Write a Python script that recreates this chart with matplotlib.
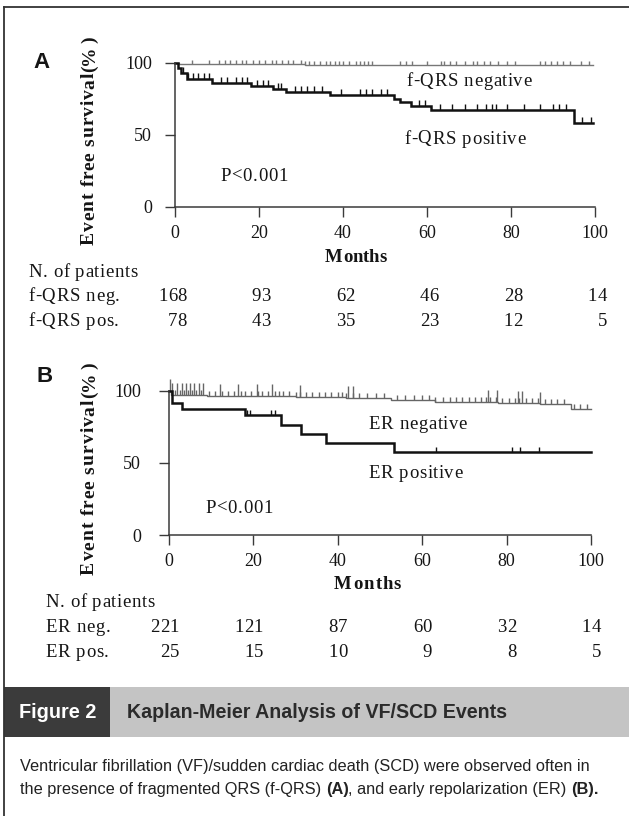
import numpy as np
import matplotlib
matplotlib.use("Agg")
import matplotlib.pyplot as plt
from matplotlib.font_manager import FontProperties
from matplotlib.patches import Rectangle
from matplotlib.lines import Line2D

FW, FH = 629, 816

# ---------------- data ----------------
month_ticks = [0, 20, 40, 60, 80, 100]
surv_ticks = [0, 50, 100]

# Panel A : f-QRS
a_pos_t = [0, 0.7, 1.5, 2.8, 8.8, 18.2, 23.3, 26.4, 37.0, 52.2, 53.5, 56.3, 61.0, 95.0, 99.5]
a_pos_s = [100, 96, 93, 89, 85.8, 83.5, 81.8, 79.6, 77.5, 75.0, 72.5, 70.0, 67.4, 58.0, 58.0]
a_pos_cens = [2, 3.2, 4.2, 5.5, 6.8, 8.0, 11, 12.5, 14.5, 16, 17.2, 19.5, 21, 22.2, 24.5, 25.3,
              28.5, 30, 31.5, 33, 35, 39.5, 44, 45.5, 47, 49, 50.5, 58, 59.5, 63, 66, 69, 72,
              74, 75.5, 76.5, 79, 83, 87, 90, 91.5, 93, 97, 99]
a_neg_t = [0, 1.0, 31.0, 99.5]
a_neg_s = [100, 99.3, 98.5, 98.5]
a_neg_cens = [4, 8, 10.5, 12, 13, 14.5, 16, 17, 18.5, 20, 21.5, 23, 24, 25.5, 27, 28, 30, 31, 32,
              33, 34.5, 36, 37, 38, 39, 40, 41.5, 43, 44, 45, 46, 47, 53.5, 55, 56.5, 60, 63.3,
              64, 65.5, 67, 69, 71, 72, 73.5, 75, 77, 79, 81, 86.8, 88, 89.5, 91, 92.5, 94,
              96.6, 98.5]
a_risk_labels = ["f-QRS neg.", "f-QRS pos."]
a_risk = [[168, 93, 62, 46, 28, 14],
          [78, 43, 35, 23, 12, 5]]

# Panel B : ER
b_pos_t = [0, 0.8, 3.0, 18.0, 26.5, 31.3, 37.1, 53.3, 100]
b_pos_s = [100, 91.5, 87.5, 83.0, 76.5, 70.0, 63.5, 57.3, 57.3]
b_pos_cens = [18.6, 19.3, 24.2, 25.2, 63.2, 81.2, 83.2, 87.7]
b_neg_t = [0, 0.5, 9, 30, 42, 52.5, 63, 78, 88, 95.3, 100]
b_neg_s = [100, 97, 96, 95.5, 95, 93.5, 92.5, 91.5, 90.8, 87, 87]
b_neg_cens = [1.5, 2.5, 3.5, 4.5, 5.5, 6.5, 7.5, 9.5, 11, 12.5, 14, 15.5, 17, 18, 19.5, 21, 22,
              23.5, 25, 26, 27, 28.5, 30, 31, 32.5, 34, 35.5, 37, 38.5, 40, 41, 42, 43.5, 45,
              47, 49, 51, 54, 56, 58, 60, 61.5, 63, 65, 66.5, 68, 69.5, 71, 72.5, 74, 75, 76,
              77.5, 79, 80.5, 82, 83, 84.5, 86, 87.5, 89, 90.5, 92, 93.5, 96, 97.5, 99]
b_neg_tied = [0.3, 0.7, 2, 3, 4, 5, 6, 7, 8, 12, 16.4, 20.8, 24.5, 31, 42.5, 43.5,
              75.6, 77.7, 82.7, 83.6, 88]
b_risk_labels = ["ER neg.", "ER pos."]
b_risk = [[221, 121, 87, 60, 32, 14],
          [25, 15, 10, 9, 8, 5]]

# ---------------- figure ----------------
fig = plt.figure(figsize=(FW / 100, FH / 100), dpi=100)
fig.patch.set_facecolor("white")
renderer = fig.canvas.get_renderer()
SERIF = "Liberation Serif"
SANS = "Liberation Sans"
INK = "#151515"
TS = 13.5          # serif text size
ST = 1.08          # slight horizontal letter spacing


def fx(x):
    return x / FW


def fy(y):
    return 1 - y / FH


def tw(s, fp):
    return renderer.get_text_width_height_descent(s, fp, ismath=False)[0]


def spaced(x, y, s, size, weight="normal", stretch=ST, ha="left", rot=0,
           color=INK, family=SERIF):
    """Text drawn with extra letter spacing. x,y in figure px (top origin).
    rot=0: y is baseline.  rot=90: x is baseline, y is the anchor along the text."""
    fp = FontProperties(family=family, size=size, weight=weight)
    wx = tw("x", fp)
    total = tw(s, fp) * stretch
    pos = [0.0] + [(tw(s[:i] + "x", fp) - wx) * stretch for i in range(1, len(s))]
    start = {"left": 0.0, "center": -total / 2, "right": -total}[ha]
    for ch, p in zip(s, pos):
        if ch == " ":
            continue
        if rot == 0:
            fig.text(fx(x + start + p), fy(y), ch, fontproperties=fp, ha="left",
                     va="baseline", color=color)
        else:
            fig.text(fx(x), fy(y - start - p), ch, fontproperties=fp, rotation=90,
                     rotation_mode="anchor", ha="left", va="baseline", color=color)


def surv_at(times, surv, pts):
    idx = np.searchsorted(np.asarray(times), np.asarray(pts), side="right") - 1
    return np.asarray(surv)[idx]


def make_axes(left, right, y0, y100, ypad):
    ax = fig.add_axes([fx(left), fy(y0), (right - left) / FW, (y0 - y100) / FH])
    ax.set_xlim(0, 100)
    ax.set_ylim(0, 100)
    for sp in ("top", "right"):
        ax.spines[sp].set_visible(False)
    for sp in ("left", "bottom"):
        ax.spines[sp].set_color("#3a3a3a")
        ax.spines[sp].set_linewidth(1.1)
    ax.set_xticks(month_ticks)
    ax.set_yticks(surv_ticks)
    ax.tick_params(direction="out", length=7, width=1.0, color="#3a3a3a",
                   labelsize=13, labelcolor=INK)
    ax.tick_params(axis="x", pad=6)
    ax.tick_params(axis="y", pad=ypad)
    for lab in ax.get_xticklabels() + ax.get_yticklabels():
        lab.set_fontfamily(SERIF)
    ax.patch.set_alpha(0)
    return ax


def draw_km(ax, t, s, cens, color, lw, ms):
    ax.step(t, s, where="post", color=color, lw=lw, clip_on=False, solid_joinstyle="miter")
    ax.plot(cens, surv_at(t, s, cens), ls="none", marker=2, markersize=ms,
            mew=1.0, color=color, clip_on=False)


# ---- Panel A ----
axA = make_axes(175, 595, 206.7, 62.7, 9.4)
draw_km(axA, a_neg_t, a_neg_s, a_neg_cens, "#777777", 1.0, 3.0)
draw_km(axA, a_pos_t, a_pos_s, a_pos_cens, "#111111", 1.8, 4.5)

# ---- Panel B ----
axB = make_axes(169, 591, 535, 390.7, 13)
draw_km(axB, b_neg_t, b_neg_s, b_neg_cens, "#666666", 1.0, 3.5)
axB.plot(b_neg_tied, surv_at(b_neg_t, b_neg_s, b_neg_tied), ls="none", marker=2,
         markersize=9, mew=1.0, color="#666666", clip_on=False)
draw_km(axB, b_pos_t, b_pos_s, b_pos_cens, "#111111", 1.8, 3.5)


def px_of(ax, xv):
    return ax.transData.transform((xv, 0))[0]


# panel letters
fig.text(fx(42), fy(62), "A", fontfamily=SANS, fontweight="bold", fontsize=16,
         ha="center", va="center", color=INK)
fig.text(fx(45), fy(377), "B", fontfamily=SANS, fontweight="bold", fontsize=16,
         ha="center", va="center", color=INK)

# y labels
for yc, L in ((140.5, 209), (468.5, 213)):
    fp = FontProperties(family=SERIF, size=14, weight="bold")
    st = L / tw("Event free survival(%)", fp)
    spaced(94, yc, "Event free survival(%)", 14, weight="bold", stretch=st,
           ha="center", rot=90)

# curve labels
spaced(406, 86, "f-QRS negative", TS)
spaced(404, 143.5, "f-QRS positive", TS)
spaced(220, 181, "P<0.001", TS)
spaced(368, 429, "ER negative", TS)
spaced(368, 478, "ER positive", TS)
spaced(205, 513, "P<0.001", TS)

# Months
spaced(356, 262, "Months", TS, weight="bold", stretch=1.0, ha="center")
spaced(368, 589, "Months", TS, weight="bold", stretch=1.1, ha="center")

# risk tables
def risk_table(ax, x_lab, y_rows, labels, rows, off_px):
    spaced(x_lab, y_rows[0] + 6, "N. of patients", TS)
    for lab, vals, yr in zip(labels, rows, y_rows[1:]):
        spaced(x_lab, yr + 6, lab, TS)
        for m, v in zip(month_ticks, vals):
            spaced(px_of(ax, m) + off_px, yr + 6, str(v), TS, stretch=1.02, ha="right")


risk_table(axA, 28, [271, 295, 320], a_risk_labels, a_risk, 12)
risk_table(axB, 45, [601, 626, 651], b_risk_labels, b_risk, 10)

# ---- caption block ----
fig.add_artist(Rectangle((fx(4), fy(737)), (110 - 4) / FW, 50 / FH,
                         transform=fig.transFigure, facecolor="#3b3b3b", edgecolor="none"))
fig.add_artist(Rectangle((fx(110), fy(737)), (FW - 110) / FW, 50 / FH,
                         transform=fig.transFigure, facecolor="#c4c4c4", edgecolor="none"))

fp_h = FontProperties(family=SANS, size=12, weight="bold")
sz = 12 * 77 / tw("Figure 2", fp_h)
fig.text(fx(58), fy(712), "Figure 2", fontfamily=SANS, fontweight="bold", fontsize=sz,
         color="white", ha="center", va="center")
title = "Kaplan-Meier Analysis of VF/SCD Events"
sz = 12 * 379 / tw(title, fp_h)
fig.text(fx(127), fy(712), title, fontfamily=SANS, fontweight="bold", fontsize=sz,
         color="#2b2b2b", ha="left", va="center")

line1 = "Ventricular fibrillation (VF)/sudden cardiac death (SCD) were observed often in"
fp_c = FontProperties(family=SANS, size=11)
csz = 11 * 570 / tw(line1, fp_c)
fig.text(fx(20), fy(771), line1, fontfamily=SANS, fontsize=csz, color="#222222",
         ha="left", va="baseline")
pieces = [("the presence of fragmented QRS (f-QRS) ", "normal"), ("(A)", "bold"),
          (", and early repolarization (ER) ", "normal"), ("(B).", "bold")]
xc = 20
for txt, wgt in pieces:
    fpp = FontProperties(family=SANS, size=csz, weight=wgt)
    fig.text(fx(xc), fy(794), txt, fontproperties=fpp, color="#222222",
             ha="left", va="baseline")
    xc += tw(txt + "x", fpp) - tw("x", fpp)

# border
fig.add_artist(Line2D([fx(4), fx(4)], [fy(7), 0], transform=fig.transFigure,
                      color="#333333", lw=1.3))
fig.add_artist(Line2D([fx(4), 1], [fy(7), fy(7)], transform=fig.transFigure,
                      color="#333333", lw=1.3))

fig.savefig("out.png", dpi=100, facecolor="white")
